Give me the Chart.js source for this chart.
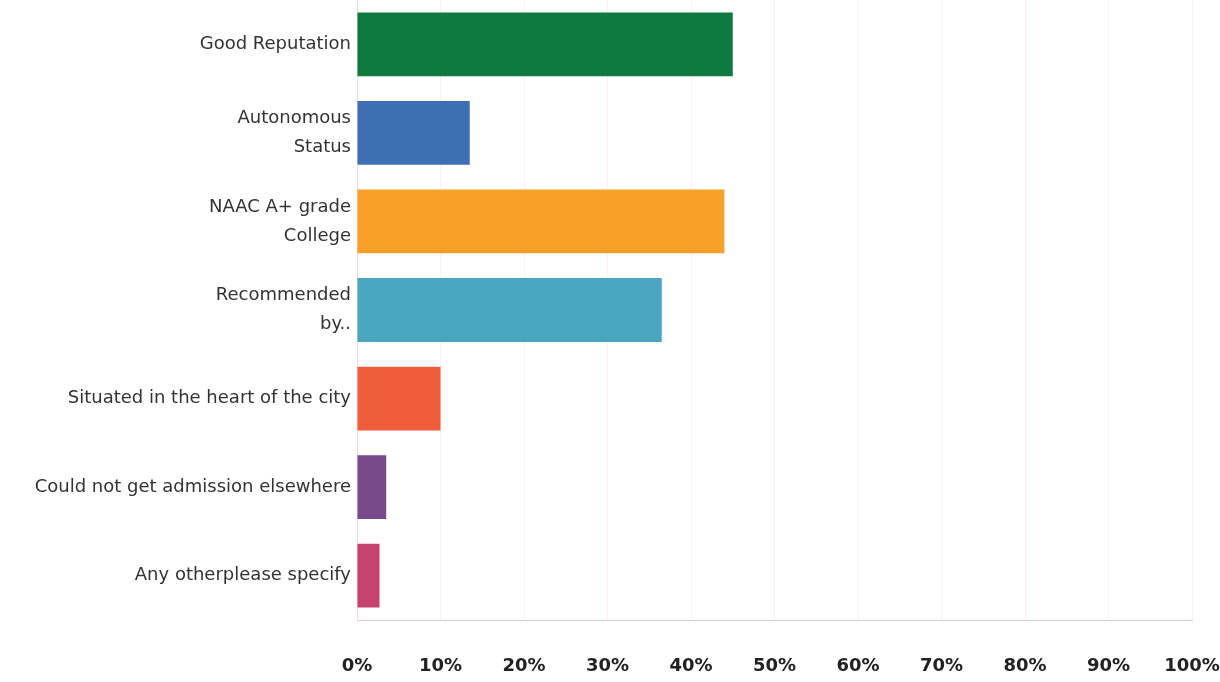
<!DOCTYPE html>
<html>
<head>
<meta charset="utf-8">
<script src="https://cdn.jsdelivr.net/npm/chart.js@4"></script>
<style>
  html, body { margin: 0; padding: 0; background: #ffffff; }
  #wrap { width: 1220px; height: 682px; }
</style>
</head>
<body>
<div id="wrap"><canvas id="grafico"></canvas></div>
<script>
// Dados
const categorias = [
  'Good Reputation',
  ['Autonomous', 'Status'],
  ['NAAC A+ grade', 'College'],
  ['Recommended', 'by..'],
  'Situated in the heart of the city',
  'Could not get admission elsewhere',
  'Any otherplease specify'
];
const valores = [45, 13.5, 44, 36.5, 10, 3.5, 2.7];
const cores = ['#10793f', '#3d6fb4', '#f9a02b', '#4aa5c0', '#f15c3a', '#784a8a', '#c6426f'];
const ticksX = [0, 10, 20, 30, 40, 50, 60, 70, 80, 90, 100];

new Chart(document.querySelector('#grafico'), {
  type: 'bar',
  data: {
    labels: categorias,
    datasets: [{
      data: valores,
      backgroundColor: cores,
      borderWidth: 0,
      barPercentage: 0.72,
      categoryPercentage: 1
    }]
  },
  options: {
    indexAxis: 'y',
    responsive: true,
    maintainAspectRatio: false,
    animation: false,
    layout: { padding: { top: -6, right: 28, bottom: 0, left: 0 } },
    plugins: {
      legend: { display: false },
      tooltip: { enabled: false }
    },
    scales: {
      x: {
        min: 0,
        max: 100,
        afterBuildTicks: s => { s.ticks = ticksX.map(v => ({ value: v })); },
        afterFit: s => { s.height = 62; s.paddingLeft = 0; s.paddingRight = 0; },
        ticks: {
          callback: v => v + '%',
          color: '#222',
          padding: 36,
          maxRotation: 0,
          font: { family: 'DejaVu Sans', size: 18, weight: 'bold' }
        },
        grid: { color: '#fbeff1', drawTicks: false },
        border: { color: '#e6c9cd', width: 1 }
      },
      y: {
        afterFit: s => { s.width = 357; s.paddingTop = 0; s.paddingBottom = 0; },
        ticks: {
          color: '#333',
          padding: 6,
          font: { family: 'DejaVu Sans', size: 18, lineHeight: 1.6 }
        },
        grid: { display: false, drawTicks: false },
        border: { color: '#eed9dc', width: 1 }
      }
    }
  }
});
</script>
</body>
</html>
